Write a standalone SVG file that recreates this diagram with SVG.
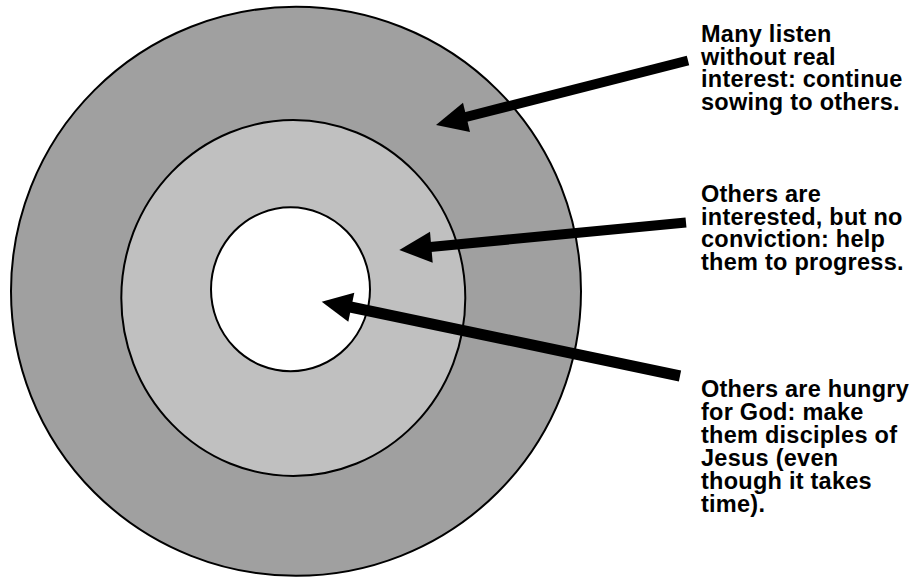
<svg xmlns="http://www.w3.org/2000/svg" width="913" height="578" viewBox="0 0 913 578">
<style>
.ring{stroke:#000;stroke-width:2}
.shaft{stroke:#000;stroke-width:10;fill:none}
.head{fill:#000;stroke:none}
.lbl{font-family:"Liberation Sans",Arial,sans-serif;font-weight:bold;font-size:23.5px;letter-spacing:0.25px;fill:#000}
</style>
<rect width="913" height="578" fill="#fff"/>
<g id="outer-ring"><ellipse class="ring" cx="296" cy="291.3" rx="285" ry="284.5" fill="#a0a0a0"/></g>
<g id="middle-ring"><ellipse class="ring" cx="293.3" cy="298" rx="172" ry="178" fill="#c0c0c0"/></g>
<g id="inner-ring"><ellipse class="ring" cx="290.5" cy="289.3" rx="79.5" ry="82" fill="#fff"/></g>
<g id="connectors">
<line class="shaft" x1="688" y1="60.5" x2="460" y2="118.5"/>
<polygon class="head" points="436,125 463,102.7 470,132"/>
<line class="shaft" x1="686" y1="222.5" x2="425" y2="247.5"/>
<polygon class="head" points="399.3,250 430,231.7 432.7,262.7"/>
<line class="shaft" x1="680" y1="376" x2="348" y2="306.5" style="stroke-width:11"/>
<polygon class="head" points="321.7,301.7 354.3,292.7 348.3,321.7"/>
</g>
<g id="label-1">
<text class="lbl" x="701"><tspan x="701" y="41.7">Many listen</tspan><tspan x="701" y="64.5">without real</tspan><tspan x="701" y="87.3">interest: continue</tspan><tspan x="701" y="110">sowing to others.</tspan></text>
</g>
<g id="label-2">
<text class="lbl" x="701"><tspan x="701" y="201.7">Others are</tspan><tspan x="701" y="224.5">interested, but no</tspan><tspan x="701" y="247.3">conviction: help</tspan><tspan x="701" y="270">them to progress.</tspan></text>
</g>
<g id="label-3">
<text class="lbl" x="701"><tspan x="701" y="397.3">Others are hungry</tspan><tspan x="701" y="420.2">for God: make</tspan><tspan x="701" y="443.1">them disciples of</tspan><tspan x="701" y="466">Jesus (even</tspan><tspan x="701" y="488.9">though it takes</tspan><tspan x="701" y="511.8">time).</tspan></text>
</g>
</svg>
